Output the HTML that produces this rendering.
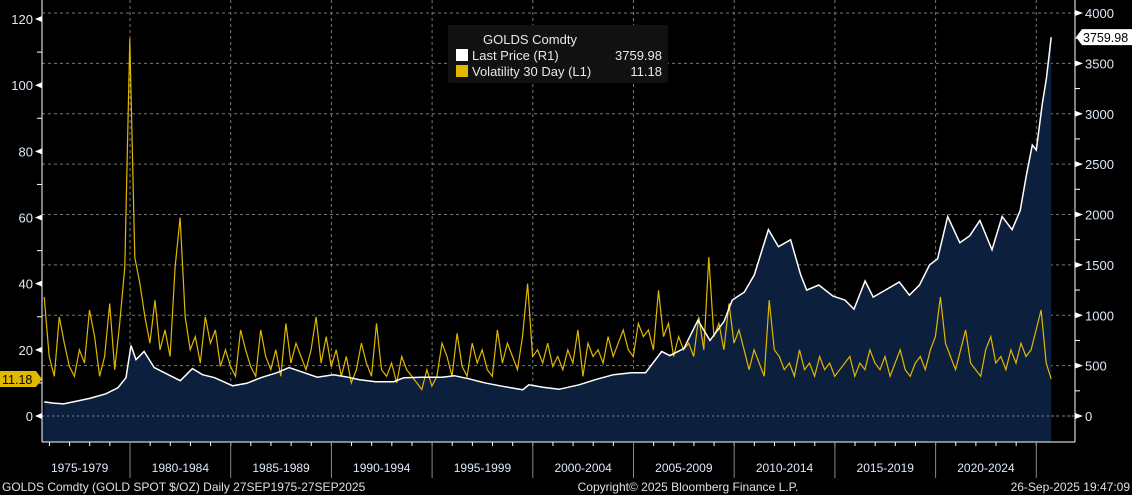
<!DOCTYPE html>
<html><head><meta charset="utf-8"><style>
body{margin:0;background:#000;}
svg{display:block;font-family:"Liberation Sans",sans-serif;}
</style></head><body>
<svg id="c" width="1132" height="495">
<rect width="1132" height="495" fill="#000"/>
<g id="grid"></g><g id="series"></g><g id="axes"></g>
<g>
<rect x="448" y="25" width="220" height="58" fill="#111" rx="2"/>
<text x="530" y="44" fill="#e8e8e8" font-size="13" text-anchor="middle">GOLDS Comdty</text>
<rect x="456" y="49" width="12" height="12" fill="#fff"/>
<text x="472" y="60" fill="#e8e8e8" font-size="13">Last Price  (R1)</text>
<text x="662" y="60" fill="#e8e8e8" font-size="13" text-anchor="end">3759.98</text>
<rect x="456" y="65" width="12" height="12" fill="#e0b800"/>
<text x="472" y="76" fill="#e8e8e8" font-size="13">Volatility 30 Day  (L1)</text>
<text x="662" y="76" fill="#e8e8e8" font-size="13" text-anchor="end">11.18</text>
</g>
<text x="2" y="491" fill="#e0e0e0" font-size="12">GOLDS Comdty (GOLD SPOT $/OZ)  Daily 27SEP1975-27SEP2025</text>
<text x="688" y="491" fill="#e0e0e0" font-size="12" text-anchor="middle">Copyright© 2025 Bloomberg Finance L.P.</text>
<text x="1130" y="491" fill="#e0e0e0" font-size="12" text-anchor="end">26-Sep-2025 19:47:09</text>
</svg>
<script>
const priceT=[1975.74,1976.2,1976.7,1977.3,1978,1978.8,1979.4,1979.8,1980.05,1980.3,1980.7,1981.2,1981.8,1982.5,1983.1,1983.6,1984.2,1985.1,1985.8,1986.5,1987.3,1987.9,1988.5,1989.3,1990.1,1990.7,1991.4,1992.2,1993.1,1993.6,1994.5,1995.5,1996.1,1996.8,1997.6,1998.5,1999.5,1999.8,2000.5,2001.3,2002.3,2003.1,2004,2004.9,2005.6,2006.4,2006.8,2007.5,2008.2,2008.8,2009.5,2009.9,2010.5,2011,2011.7,2012.2,2012.8,2013.3,2013.6,2014.2,2014.9,2015.5,2015.95,2016.5,2016.9,2017.5,2018.2,2018.7,2019.2,2019.7,2020.1,2020.6,2021.2,2021.7,2022.2,2022.8,2023.3,2023.8,2024.2,2024.5,2024.8,2025.0,2025.3,2025.5,2025.74];
const priceV=[140,128,120,145,175,220,280,380,700,560,640,480,420,350,470,410,380,300,325,380,430,480,440,385,410,390,360,340,340,380,385,385,400,370,330,295,260,310,285,265,310,360,410,430,430,640,600,670,950,750,940,1150,1230,1400,1850,1680,1750,1400,1250,1300,1190,1150,1060,1340,1180,1250,1330,1200,1300,1500,1560,1980,1720,1790,1940,1650,1980,1850,2040,2380,2690,2640,3100,3350,3760];
const volT=[];for(let i=0;i<=200;i++)volT.push(1975.74+i*0.25);
const volV=[36,18,12,30,22,15,12,20,16,32,24,12,18,34,14,28,45,114,48,40,
30,22,35,20,26,18,45,60,30,20,24,16,30,22,26,15,20,15,12,26,
20,15,12,26,18,14,20,12,28,16,22,18,14,20,30,16,24,15,20,12,
18,10,14,22,16,12,28,14,12,16,10,18,14,12,10,8,14,9,12,22,
18,12,25,15,12,22,16,20,14,12,26,16,22,18,14,24,40,18,20,16,
22,15,18,14,20,16,26,12,22,18,20,16,24,18,22,26,20,18,28,24,
26,20,38,24,28,18,24,20,22,18,30,20,48,24,28,20,34,22,26,20,
14,20,16,12,35,20,18,14,16,12,20,14,16,12,18,14,16,12,14,16,
18,12,16,14,20,16,14,18,12,16,20,14,12,16,18,14,20,24,36,22,
18,14,20,26,16,14,12,20,24,16,18,14,20,16,22,18,20,26,32,16,11.18];
const leftTicks=[0,20,40,60,80,100,120];
const rightTicks=[0,500,1000,1500,2000,2500,3000,3500,4000];
const periods=["1975-1979","1980-1984","1985-1989","1990-1994","1995-1999","2000-2004","2005-2009","2010-2014","2015-2019","2020-2024"];
const NS="http://www.w3.org/2000/svg";
const X=t=>130+(t-1980)*20.14;
const YL=v=>416-v*3.308;
const YR=v=>416-v*0.10075;
function mk(tag,at,parent){const e=document.createElementNS(NS,tag);for(const k in at)e.setAttribute(k,at[k]);document.getElementById(parent).appendChild(e);return e;}
rightTicks.forEach(v=>{const l=mk('line',{x1:42,x2:1075,y1:YR(v),y2:YR(v),stroke:'#777','stroke-dasharray':'3,3','stroke-width':1},'grid');

});
for(let i=1;i<periods.length+1;i++){const x=X(1975+i*5);const l=mk('line',{x1:x,x2:x,y1:0,y2:442,stroke:'#777','stroke-dasharray':'3,3'},'grid');

}
let d='M'+X(priceT[0])+','+YR(0);priceT.forEach((t,i)=>d+=' L'+X(t).toFixed(1)+','+YR(priceV[i]).toFixed(1));d+=' L'+X(priceT[priceT.length-1])+','+YR(0)+' Z';
const area=mk('path',{d:d,fill:'#0c1f3c'},'series');


mk('rect',{x:42,y:YR(0),width:X(2025.74)-42,height:442-YR(0),fill:'#0c1f3c'},'series');
const zl=mk('line',{x1:42,x2:1075,y1:YR(0),y2:YR(0),stroke:'#888','stroke-dasharray':'2,3'},'series');


let vd='';volT.forEach((t,i)=>{if(i<volV.length)vd+=(i?' L':'M')+X(t).toFixed(1)+','+YL(volV[i]).toFixed(1);});
const vl=mk('path',{d:vd,fill:'none',stroke:'#e0b800','stroke-width':1.2},'series');


let pd='';priceT.forEach((t,i)=>pd+=(i?' L':'M')+X(t).toFixed(1)+','+YR(priceV[i]).toFixed(1));
const pl=mk('path',{d:pd,fill:'none',stroke:'#fff','stroke-width':1.5},'series');


mk('line',{x1:42,x2:42,y1:0,y2:442,stroke:'#fff'},'axes');
mk('line',{x1:1075,x2:1075,y1:0,y2:442,stroke:'#fff'},'axes');
mk('line',{x1:42,x2:1075,y1:442,y2:442,stroke:'#fff'},'axes');
leftTicks.forEach(v=>{const y=YL(v);mk('path',{d:`M35,${y} l7,-3 v6 z`,fill:'#fff'},'axes');
const t=mk('text',{x:33,y:y+5,fill:'#dde8f5','font-size':13,'text-anchor':'end'},'axes');t.textContent=v;


mk('line',{x1:37,x2:42,y1:YL(v+10),y2:YL(v+10),stroke:'#fff'},'axes');});
rightTicks.forEach(v=>{const y=YR(v);mk('path',{d:`M1075,${y-3} l8,3 l-8,3 z`,fill:'#fff'},'axes');
const t=mk('text',{x:1085,y:y+5,fill:'#dde8f5','font-size':13},'axes');t.textContent=v;


mk('line',{x1:1075,x2:1080,y1:YR(v+250),y2:YR(v+250),stroke:'#fff'},'axes');});
for(let yr=1976;yr<=2025;yr++){const x=X(yr);mk('line',{x1:x,x2:x,y1:442,y2:446,stroke:'#fff'},'axes');
if(yr%5==0)mk('line',{x1:x,x2:x,y1:442,y2:478,stroke:'#888'},'axes');}
periods.forEach((p,i)=>{const t=mk('text',{x:X(1975+i*5+2.5),y:472,fill:'#dde8f5','font-size':12,'text-anchor':'middle'},'axes');t.textContent=p;

});
const ry=YR(priceV[priceV.length-1]);
mk('path',{d:`M1076,${ry} l6,-8 h50 v16 h-50 z`,fill:'#fff'},'axes');
const rt=mk('text',{x:1083,y:ry+5,fill:'#000','font-size':12.5},'axes');rt.textContent='3759.98';


const ly=YL(volV[volV.length-1]);
mk('path',{d:`M0,${ly-8} h36 l6,8 l-6,8 h-36 z`,fill:'#e0b800'},'axes');
const lt=mk('text',{x:2,y:ly+5,fill:'#000','font-size':12.5},'axes');lt.textContent='11.18';


</script>
</body></html>
